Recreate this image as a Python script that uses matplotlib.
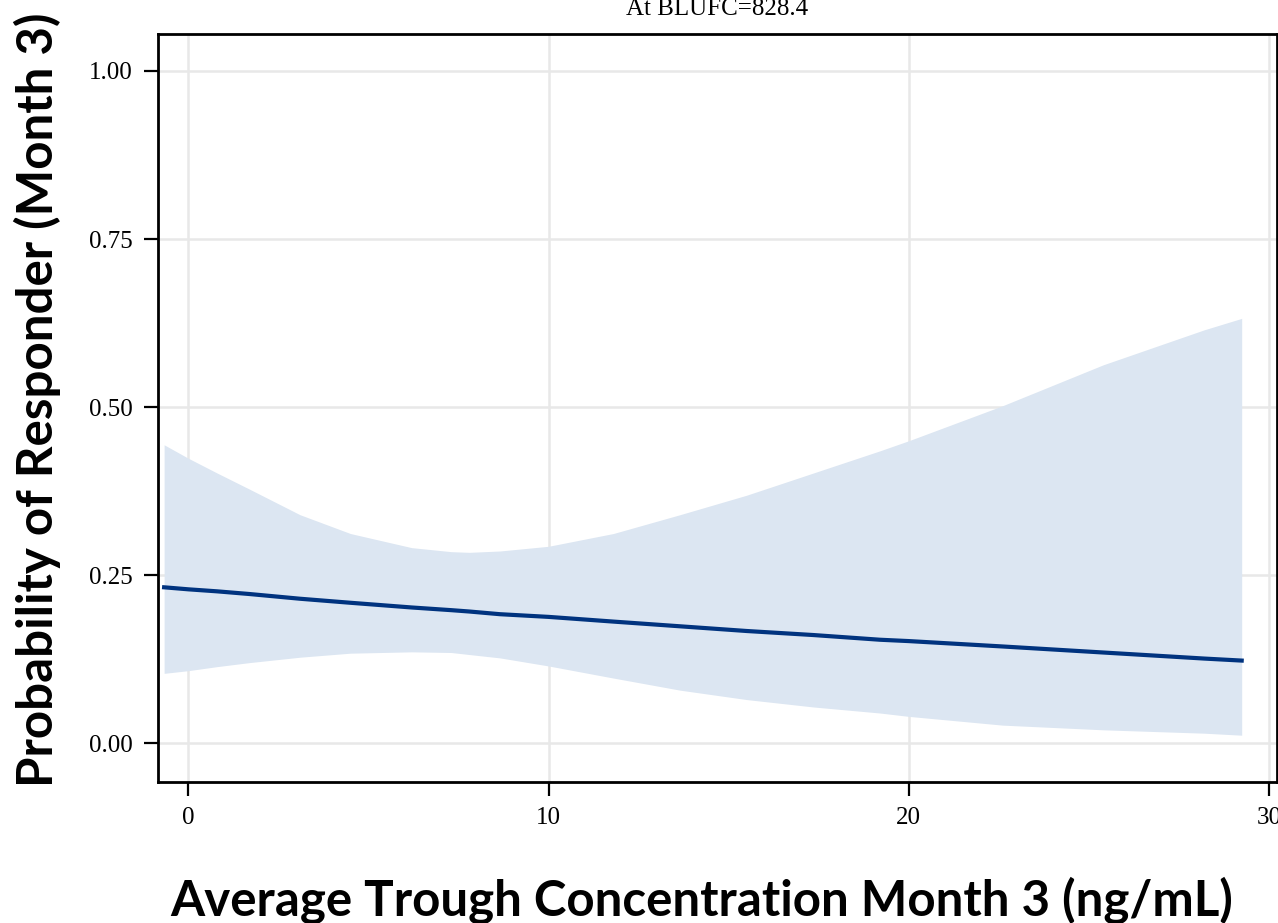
import numpy as np
import matplotlib.pyplot as plt

# concentration grid (ng/mL) and model estimates
conc = [-0.67, 0.0, 0.8, 1.7, 3.1, 4.5, 6.2, 7.3, 7.8, 8.65, 10.0, 11.8, 13.65,
        15.5, 17.35, 19.2, 20.0, 22.6, 25.4, 28.2, 29.24]
prob_fit = [0.232, 0.229, 0.226, 0.222, 0.215, 0.209, 0.202, 0.198, 0.196, 0.192,
            0.188, 0.181, 0.174, 0.167, 0.161, 0.154, 0.152, 0.144, 0.135, 0.126, 0.123]
ci_upper = [0.444, 0.424, 0.402, 0.378, 0.340, 0.312, 0.291, 0.285, 0.284, 0.286,
            0.293, 0.312, 0.340, 0.369, 0.402, 0.435, 0.450, 0.502, 0.563, 0.615, 0.632]
ci_lower = [0.104, 0.108, 0.114, 0.120, 0.128, 0.134, 0.136, 0.135, 0.132, 0.127,
            0.115, 0.097, 0.079, 0.065, 0.054, 0.045, 0.040, 0.027, 0.020, 0.015, 0.012]

x_ticks = [0, 10, 20, 30]
y_ticks = [0.0, 0.25, 0.5, 0.75, 1.0]
y_ticklabels = ["0.00", "0.25", "0.50", "0.75", "1.00"]

fig = plt.figure(figsize=(12.78, 9.23), dpi=100)
ax = fig.add_axes([158 / 1278, 1 - 782 / 923, (1277 - 158) / 1278, (782 - 34) / 923])

ax.fill_between(conc, ci_lower, ci_upper, color="#dce6f2", linewidth=0, zorder=2)
ax.plot(conc, prob_fit, color="#00337f", linewidth=3, zorder=3)

ax.set_xlim(-0.84, 30.22)
ax.set_ylim(-0.0576, 1.055)
ax.set_xticks(x_ticks)
ax.set_yticks(y_ticks)
ax.set_yticklabels(y_ticklabels)
ax.grid(True, color="#e8e8e8", linewidth=1.8, zorder=1)
ax.set_axisbelow(True)

for s in ax.spines.values():
    s.set_linewidth(2)
    s.set_color("black")
ax.tick_params(direction="out", length=10, width=1.6, labelsize=18, pad=8)
for lab in ax.get_xticklabels() + ax.get_yticklabels():
    lab.set_family("Liberation Serif")

fig.text(717.5 / 1278, 1 - 15 / 923, "At BLUFC=828.4", family="Liberation Serif",
         fontsize=18, ha="center", va="baseline")
fig.text(702 / 1278, 1 - 915 / 923, "Average Trough Concentration Month 3 (ng/mL)",
         family="Lato", fontweight="bold", fontsize=35.5, ha="center", va="baseline")
fig.text(37 / 1278, 1 - 400 / 923, "Probability of Responder (Month 3)",
         family="Lato", fontweight="bold", fontsize=35.5, ha="center", va="center",
         rotation=90)

plt.savefig("out.png", dpi=100)
